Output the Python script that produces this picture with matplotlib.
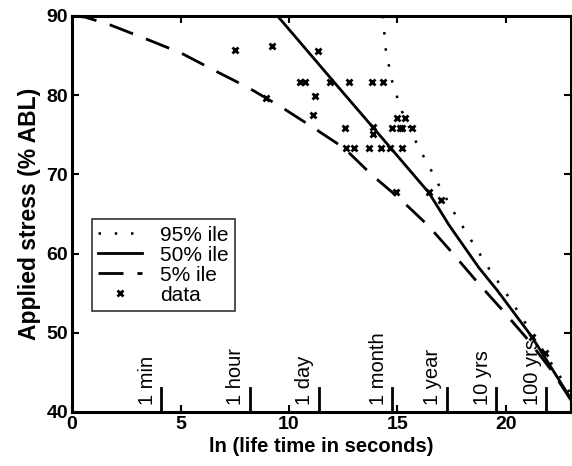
import numpy as np
import matplotlib
matplotlib.use("Agg")
import matplotlib.pyplot as plt

plt.rcParams['font.family'] = ['Liberation Sans', 'DejaVu Sans']

# ---------------------------- data ----------------------
# 95% ile (dotted)
p95_x = [14.34, 14.39, 14.44, 14.59, 14.73, 14.96, 15.20, 15.82, 16.18, 16.54,
         16.89, 17.61, 18.42, 19.22, 20.11, 20.91, 21.75, 22.59, 23.0]
p95_y = [90.0, 88.2, 86.1, 84.0, 82.0, 80.0, 78.0, 74.3, 72.4, 70.6,
         68.75, 65.2, 61.6, 58.1, 54.6, 51.2, 47.6, 44.1, 42.2]

# 50% ile (solid)
p50_x = [9.47, 12.09, 14.76, 16.46, 17.38, 18.76, 19.59, 21.2, 22.9, 23.0]
p50_y = [90.0, 81.6, 73.1, 67.65, 63.6, 58.2, 55.4, 49.5, 42.1, 41.7]

# 5% ile (dashed)
p5_x = [0.0, 0.6, 1.75, 3.40, 5.03, 6.57, 8.15, 9.64, 11.09, 12.55, 13.83,
        15.16, 16.43, 17.56, 18.73, 19.83, 21.06, 22.2, 23.0]
p5_y = [90.0, 89.84, 88.86, 87.1, 85.3, 83.1, 80.9, 78.5, 75.95, 73.3, 69.9,
        66.8, 63.5, 60.0, 56.25, 52.9, 49.0, 44.9, 41.5]

# measured data
data_x = [7.49, 9.2, 11.36, 8.95, 10.53, 10.76, 11.89, 12.75, 13.82, 14.36,
          11.19, 11.1, 12.58, 13.89, 13.89, 15.0, 15.36, 14.74, 15.11, 15.22,
          15.69, 12.63, 13.01, 13.67, 14.24, 14.65, 15.2, 14.92, 16.46, 17.0,
          21.21, 21.8]
data_y = [85.7, 86.2, 85.6, 79.6, 81.6, 81.6, 81.6, 81.6, 81.6, 81.6,
          79.9, 77.5, 75.8, 76.0, 75.1, 77.1, 77.1, 75.8, 75.8, 75.8,
          75.8, 73.3, 73.3, 73.3, 73.3, 73.3, 73.3, 67.8, 67.8, 66.8,
          49.4, 47.4]

# time markers: ln(seconds)
time_labels = ["1 min", "1 hour", "1 day", "1 month", "1 year", "10 yrs", "100 yrs"]
time_secs = [60, 3600, 86400, 2.6e6, 3.156e7, 3.156e8, 3.156e9]

# ---------------------------- plot ----------------------------------------
fig = plt.figure(figsize=(5.72, 4.66), dpi=100)
ax = fig.add_axes([0.126, 0.116, 0.872, 0.85])

ax.plot(p95_x, p95_y, color='black', linestyle=(0, (1, 5.5)), lw=1.8, label='95% ile')
ax.plot(p50_x, p50_y, color='black', linestyle='-', lw=2.0, label='50% ile')
ax.plot(p5_x, p5_y, color='black', linestyle=(0, (9, 5)), lw=2.0, label='5% ile')
ax.plot(data_x, data_y, linestyle='none', marker='x', color='black',
        markersize=5, mew=2, label='data')

for lab, s in zip(time_labels, time_secs):
    t = np.log(s)
    ax.plot([t, t], [40, 43], color='black', lw=2)
    ax.text(t - 0.2, 40.9, lab, rotation=90, ha='right', va='bottom', fontsize=14.5)

ax.set_xlim(0, 23)
ax.set_ylim(40, 90)
ax.set_xticks([0, 5, 10, 15, 20])
ax.set_yticks([40, 50, 60, 70, 80, 90])
ax.tick_params(direction='in', top=True, right=True, length=5, width=1.5,
               labelsize=14, pad=3)
for lbl in ax.get_xticklabels() + ax.get_yticklabels():
    lbl.set_fontweight('bold')
for sp in ax.spines.values():
    sp.set_linewidth(2.2)

ax.set_xlabel("ln (life time in seconds)", fontsize=14.6, fontweight='bold', labelpad=3)
ax.set_ylabel("Applied stress (% ABL)", fontsize=16.5, fontweight='bold', labelpad=4)

leg = ax.legend(loc='lower left', bbox_to_anchor=(0.04, 0.255), fontsize=15,
                frameon=True, fancybox=False, edgecolor='black', borderpad=0.3,
                handlelength=2.1, handletextpad=0.85, labelspacing=0.05,
                borderaxespad=0)
leg.get_frame().set_linewidth(1.2)

fig.savefig("out.png", dpi=100)
